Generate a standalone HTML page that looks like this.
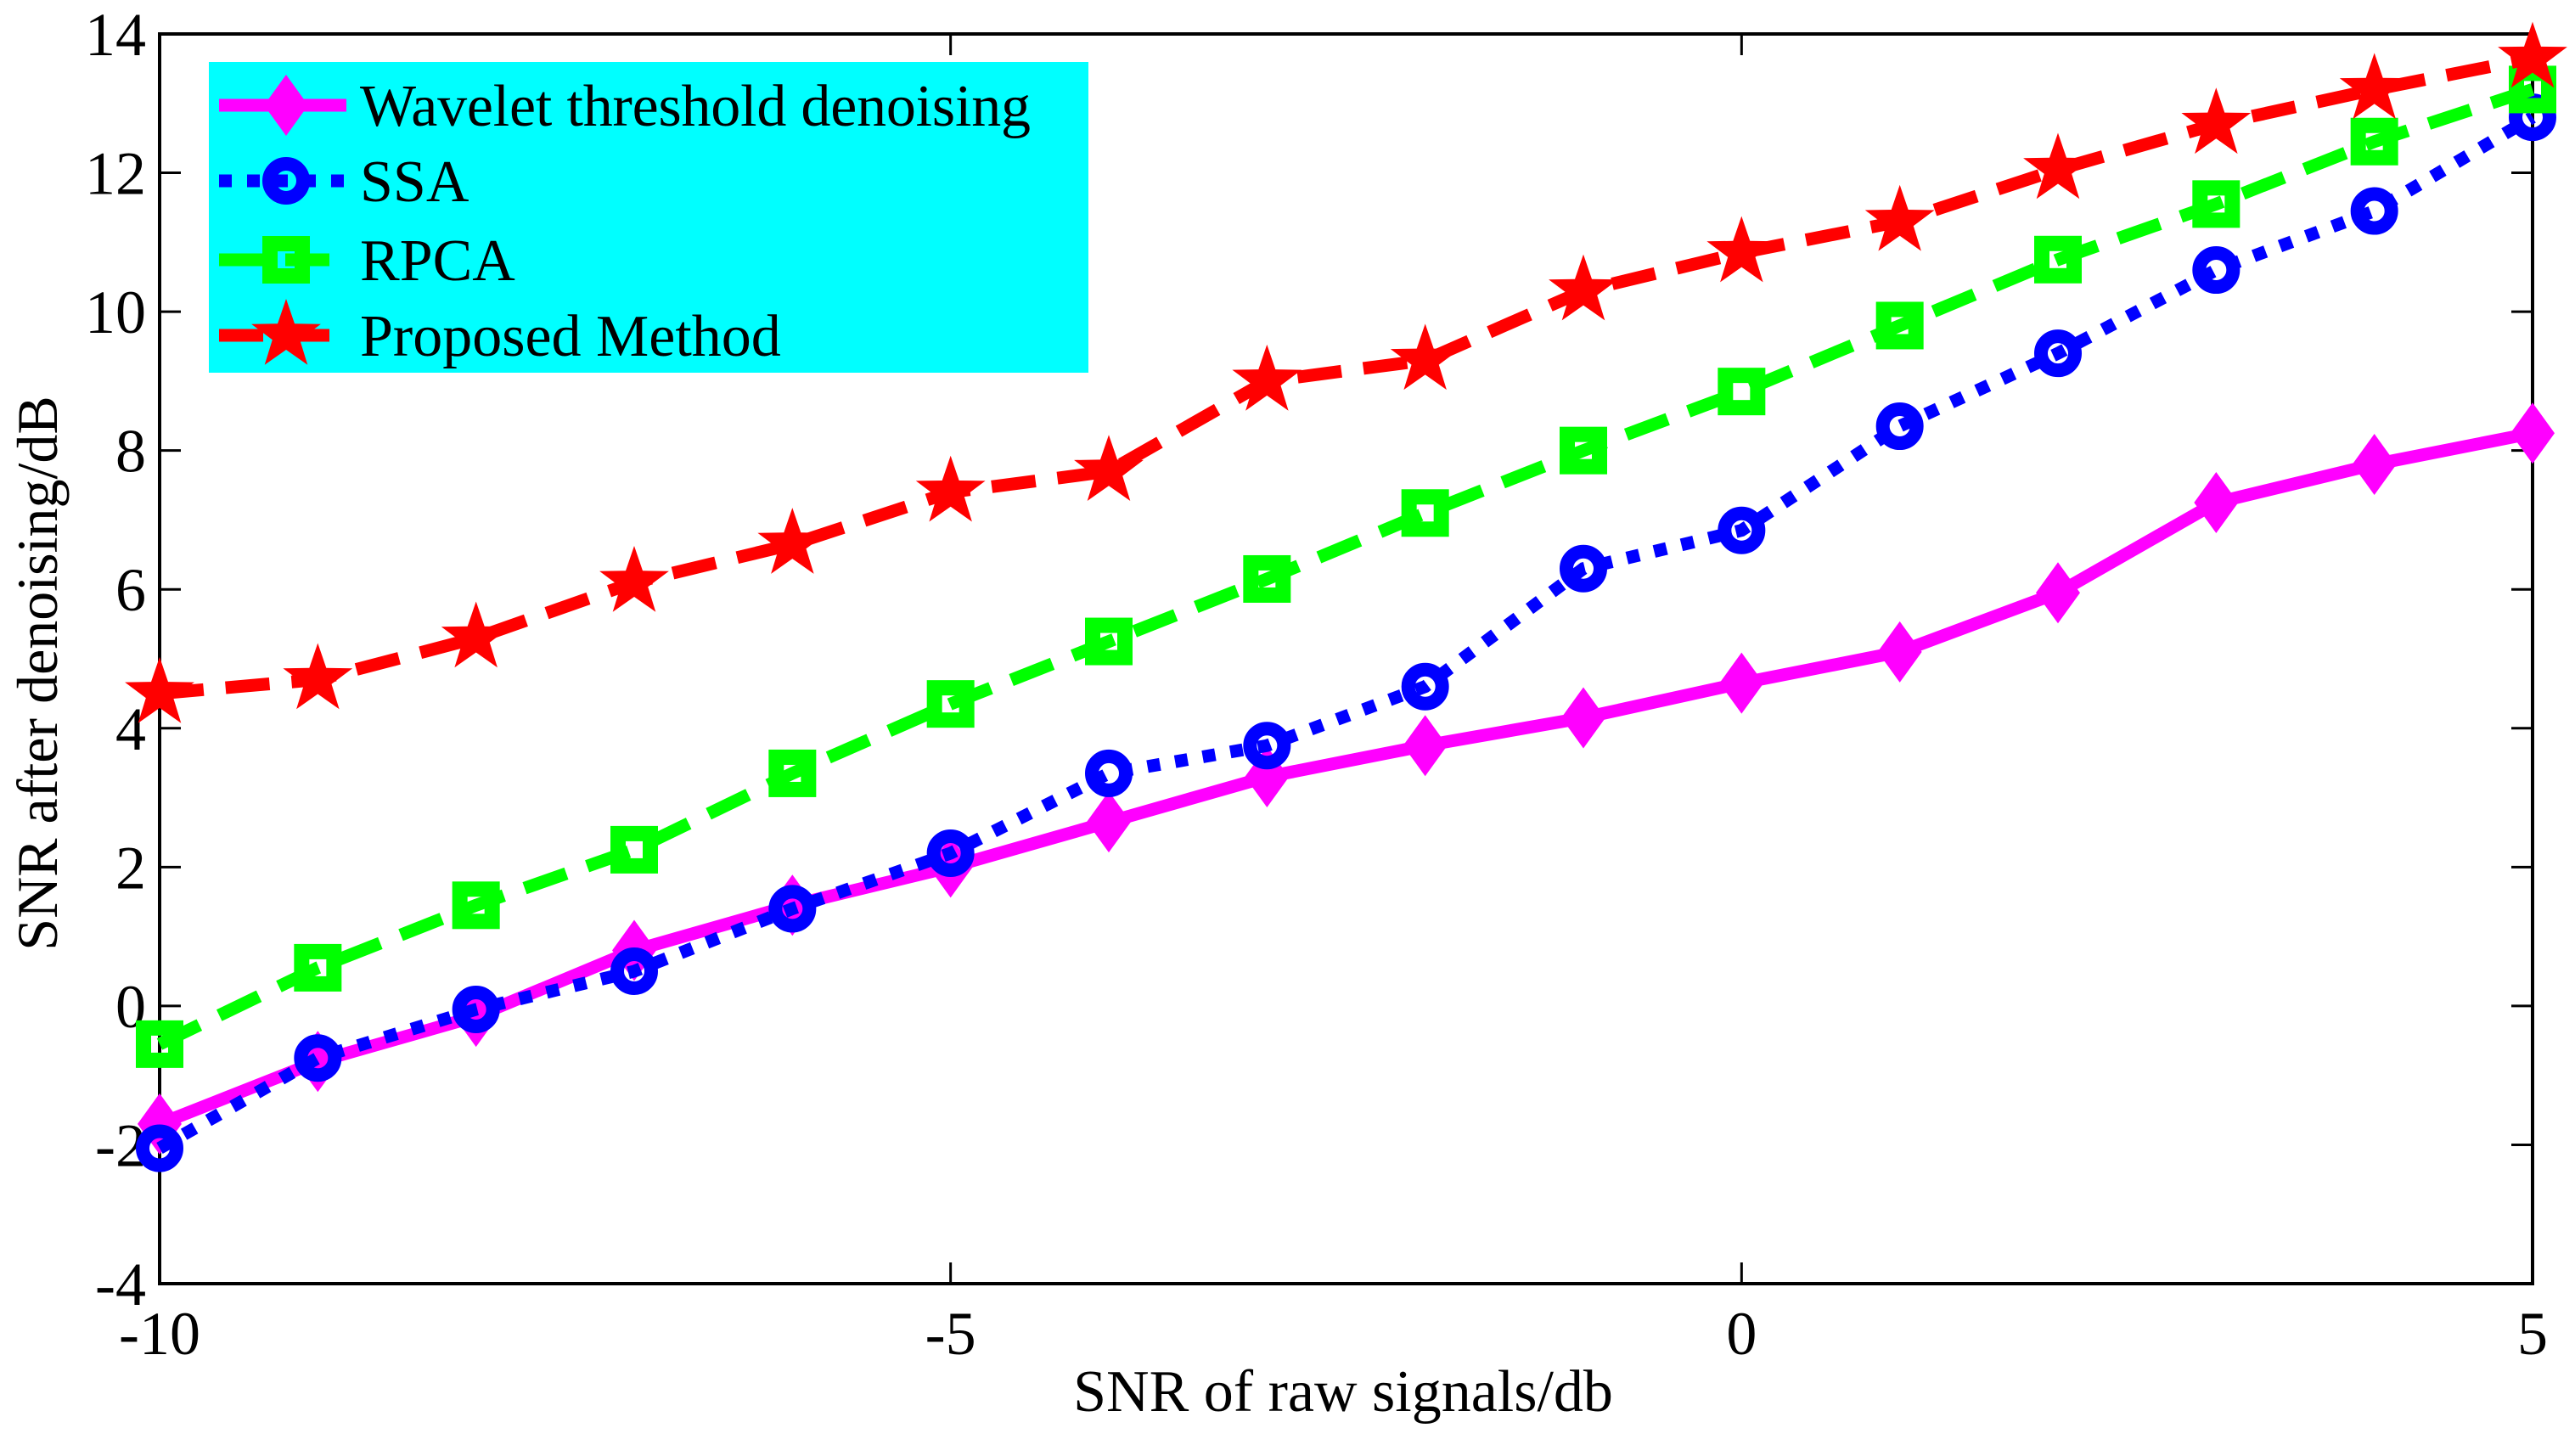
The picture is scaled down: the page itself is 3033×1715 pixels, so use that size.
<!DOCTYPE html>
<html><head><meta charset="utf-8"><style>
html,body{margin:0;padding:0;background:#fff;}
svg text{font-family:"Liberation Serif",serif;fill:#000;}
</style></head><body>
<svg id="chart" width="3033" height="1710" xmlns="http://www.w3.org/2000/svg">
<g id="axes"></g>
<g id="series"></g>
<g id="legend"></g>
</svg>
<script>
const xValues=[-10,-9,-8,-7,-6,-5,-4,-3,-2,-1,0,1,2,3,4,5];
const wavelet=[-1.7,-0.8,-0.15,0.8,1.45,2.0,2.65,3.3,3.75,4.15,4.65,5.1,5.95,7.25,7.8,8.25];
const ssa=[-2.05,-0.75,-0.05,0.5,1.4,2.2,3.35,3.75,4.6,6.3,6.85,8.35,9.4,10.6,11.45,12.8];
const rpca=[-0.55,0.55,1.45,2.25,3.35,4.35,5.25,6.15,7.1,8.0,8.85,9.8,10.75,11.55,12.45,13.2];
const proposed=[4.5,4.7,5.3,6.1,6.65,7.4,7.7,9.0,9.3,10.3,10.85,11.3,12.05,12.7,13.2,13.65];
const xTicks=[-10,-5,0,5];
const yTicks=[-4,-2,0,2,4,6,8,10,12,14];
const seriesNames=["Wavelet threshold denoising","SSA","RPCA","Proposed Method"];

const NS="http://www.w3.org/2000/svg";
const L=188,R=2983,T=40,B=1512;
const xs=v=>L+(v+10)/15*(R-L);
const ys=v=>B-(v+4)/18*(B-T);
function mk(tag,attrs,parent){const e=document.createElementNS(NS,tag);for(const k in attrs)e.setAttribute(k,attrs[k]);parent.appendChild(e);return e;}
const axes=document.getElementById('axes'),ser=document.getElementById('series'),leg=document.getElementById('legend');

let fr=mk('rect',{x:L,y:T,width:R-L,height:B-T,fill:'none',stroke:'#000','stroke-width':4},axes);


xTicks.forEach(t=>{
  const x=xs(t);
  let a=mk('line',{x1:x,y1:B,x2:x,y2:B-25,stroke:'#000','stroke-width':3},axes);
  
  
  let b=mk('line',{x1:x,y1:T,x2:x,y2:T+25,stroke:'#000','stroke-width':3},axes);
  
  
  let tx=mk('text',{x:x,y:B+83,'font-size':72,'text-anchor':'middle'},axes);
  tx.textContent=t;
  
  
});
yTicks.forEach(t=>{
  const y=ys(t);
  let a=mk('line',{x1:L,y1:y,x2:L+25,y2:y,stroke:'#000','stroke-width':3},axes);
  
  
  let b=mk('line',{x1:R,y1:y,x2:R-25,y2:y,stroke:'#000','stroke-width':3},axes);
  
  
  let tx=mk('text',{x:172,y:y+25,'font-size':72,'text-anchor':'end'},axes);
  tx.textContent=t;
  
  
});
let xl=mk('text',{x:1582,y:1662,'font-size':70,'text-anchor':'middle'},axes);
xl.textContent='SNR of raw signals/db';


let yl=mk('text',{x:0,y:0,'font-size':68,'text-anchor':'middle',transform:'translate(67,793) rotate(-90)'},axes);
yl.textContent='SNR after denoising/dB';



const styles=[
 {c:'#ff00ff',dash:'none',m:'diamond'},
 {c:'#0000ff',dash:'15 18',m:'circle'},
 {c:'#00ff00',dash:'52 26',m:'square'},
 {c:'#ff0000',dash:'52 26',m:'star'}];
function marker(type,x,y,c,g){
  let e;
  if(type==='diamond'){e=mk('polygon',{points:`${x},${y-36} ${x+26},${y} ${x},${y+36} ${x-26},${y}`,fill:c},g);}
  else if(type==='circle'){e=mk('circle',{cx:x,cy:y,r:20,fill:'none',stroke:c,'stroke-width':16},g);}
  else if(type==='square'){e=mk('rect',{x:x-19,y:y-19,width:38,height:38,fill:'none',stroke:c,'stroke-width':18},g);}
  else{let p=[];for(let i=0;i<10;i++){const r=i%2?17:43,a=-Math.PI/2+i*Math.PI/5;p.push((x+r*Math.cos(a)).toFixed(1)+','+(y+r*Math.sin(a)).toFixed(1));}
   e=mk('polygon',{points:p.join(' '),fill:c},g);}
  return e;
}
[wavelet,ssa,rpca,proposed].forEach((arr,i)=>{
  const s=styles[i];
  const g=mk('g',{},ser);
  
  
  const pts=arr.map((v,j)=>xs(xValues[j]).toFixed(1)+','+ys(v).toFixed(1)).join(' ');
  let pl=mk('polyline',{points:pts,fill:'none',stroke:s.c,'stroke-width':15,'stroke-dasharray':s.dash},g);
  
  
  arr.forEach((v,j)=>{
    let m=marker(s.m,xs(xValues[j]),ys(v),s.c,g);
    
    
  });
});

let lb=mk('rect',{x:246,y:73,width:1036,height:366,fill:'#00ffff'},leg);


const rowY=[124,213,306,395];
seriesNames.forEach((n,i)=>{
  const s=styles[i],y=rowY[i];
  const g=mk('g',{},leg);
  
  
  mk('line',{x1:258,y1:y,x2:408,y2:y,stroke:s.c,'stroke-width':15,'stroke-dasharray':s.dash},g);
  marker(s.m,337,y,s.c,g);
  let t=mk('text',{x:424,y:y+24,'font-size':70,textLength:i===0?790:null},g);
  if(i!==0) t.removeAttribute('textLength');
  t.textContent=n;
});
</script>
</body></html>
